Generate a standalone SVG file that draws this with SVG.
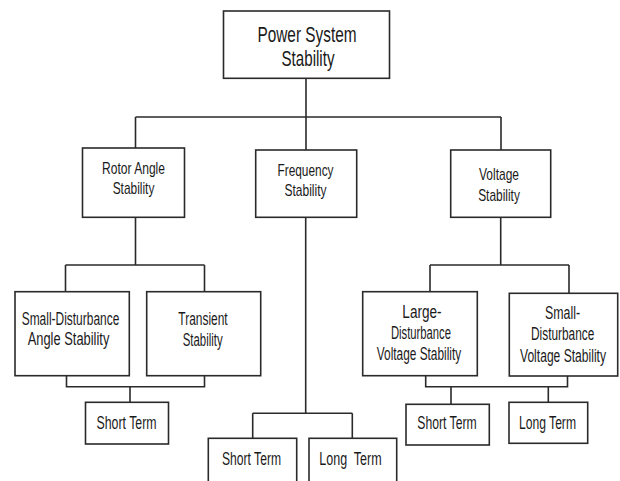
<svg xmlns="http://www.w3.org/2000/svg" width="620" height="481" viewBox="0 0 620 481">
<style>
.box{fill:#fff;stroke:#2a2a2a;stroke-width:1.6}
.ln{fill:none;stroke:#2a2a2a;stroke-width:1.6}
text{font-family:"Liberation Sans",Arial,sans-serif;fill:#1a1a1a;text-anchor:middle}
.t1{font-size:22px}
.t2{font-size:17px}
.t3{font-size:17.5px}
</style>
<rect width="620" height="481" fill="#fff"/>
<g id="connectors" class="ln">
<path d="M306,78.3 V150"/>
<path d="M135.5,117 H501"/>
<path d="M135.5,117 V148 M501,117 V150"/>
<path d="M135.5,217.3 V265 M65.5,265 H204.5 M65.5,265 V291.7 M204.5,265 V291.7"/>
<path d="M66.5,375.7 V386.7 H204.5 V375.7 M130,386.7 V402.3"/>
<path d="M305.7,217.3 V413.3 M252.7,413.3 H352.3 M252.7,413.3 V438.3 M352.3,413.3 V438.3"/>
<path d="M500.7,217.3 V265 M430,265 H569 M430,265 V291.7 M569,265 V293.3"/>
<path d="M425.7,375.7 V386.7 H567.5 V376 M451,386.7 V404.3 M548.3,386.7 V402.3"/>
</g>
<g id="power-system-stability">
<rect class="box" x="223.5" y="11" width="166" height="67.3"/>
<text class="t1" x="307" y="42" textLength="99" lengthAdjust="spacingAndGlyphs">Power System</text>
<text class="t1" x="308" y="65.5" textLength="53" lengthAdjust="spacingAndGlyphs">Stability</text>
</g>
<g id="rotor-angle-stability">
<rect class="box" x="82.5" y="148" width="102" height="69.3"/>
<text class="t2" x="133.5" y="173.5" textLength="63" lengthAdjust="spacingAndGlyphs">Rotor Angle</text>
<text class="t2" x="133.5" y="194" textLength="41.7" lengthAdjust="spacingAndGlyphs">Stability</text>
</g>
<g id="frequency-stability">
<rect class="box" x="255.7" y="150" width="101" height="67.3"/>
<text class="t2" x="305.5" y="176" textLength="56" lengthAdjust="spacingAndGlyphs">Frequency</text>
<text class="t2" x="305.5" y="195.5" textLength="42" lengthAdjust="spacingAndGlyphs">Stability</text>
</g>
<g id="voltage-stability">
<rect class="box" x="450.7" y="150" width="100" height="67.3"/>
<text class="t2" x="499" y="180" textLength="40" lengthAdjust="spacingAndGlyphs">Voltage</text>
<text class="t2" x="499" y="200.5" textLength="41.7" lengthAdjust="spacingAndGlyphs">Stability</text>
</g>
<g id="small-disturbance-angle-stability">
<rect class="box" x="15" y="291.7" width="114.3" height="84"/>
<text class="t3" x="70.5" y="324.5" textLength="97.6" lengthAdjust="spacingAndGlyphs">Small-Disturbance</text>
<text class="t3" x="68.5" y="344.5" textLength="81.7" lengthAdjust="spacingAndGlyphs">Angle Stability</text>
</g>
<g id="transient-stability">
<rect class="box" x="146.7" y="291.7" width="114" height="84"/>
<text class="t3" x="203" y="325" textLength="49.3" lengthAdjust="spacingAndGlyphs">Transient</text>
<text class="t3" x="202.7" y="345.5" textLength="40" lengthAdjust="spacingAndGlyphs">Stability</text>
</g>
<g id="rotor-short-term">
<rect class="box" x="85.5" y="402.3" width="83" height="41.7"/>
<text class="t3" x="126.5" y="428.5" textLength="60" lengthAdjust="spacingAndGlyphs">Short Term</text>
</g>
<g id="frequency-short-term">
<rect class="box" x="208.3" y="438.3" width="88.4" height="52"/>
<text class="t3" x="251.5" y="465" textLength="59" lengthAdjust="spacingAndGlyphs">Short Term</text>
</g>
<g id="frequency-long-term">
<rect class="box" x="309" y="438.3" width="87.7" height="52"/>
<text class="t3" x="350.5" y="465" textLength="62.3" lengthAdjust="spacingAndGlyphs" style="white-space:pre">Long  Term</text>
</g>
<g id="large-disturbance-voltage-stability">
<rect class="box" x="362.7" y="291.7" width="114.6" height="84"/>
<text class="t3" x="422" y="317.5" textLength="39.3" lengthAdjust="spacingAndGlyphs">Large-</text>
<text class="t3" x="421" y="338.5" textLength="60" lengthAdjust="spacingAndGlyphs">Disturbance</text>
<text class="t3" x="419" y="360" textLength="84.3" lengthAdjust="spacingAndGlyphs">Voltage Stability</text>
</g>
<g id="small-disturbance-voltage-stability">
<rect class="box" x="509.3" y="293.3" width="108.4" height="82.7"/>
<text class="t3" x="562.5" y="318.5" textLength="35" lengthAdjust="spacingAndGlyphs">Small-</text>
<text class="t3" x="562.7" y="339.5" textLength="63.3" lengthAdjust="spacingAndGlyphs">Disturbance</text>
<text class="t3" x="563" y="361.7" textLength="86" lengthAdjust="spacingAndGlyphs">Voltage Stability</text>
</g>
<g id="voltage-short-term">
<rect class="box" x="406" y="404.3" width="83.3" height="40.7"/>
<text class="t3" x="447" y="429" textLength="59.3" lengthAdjust="spacingAndGlyphs">Short Term</text>
</g>
<g id="voltage-long-term">
<rect class="box" x="509" y="402.3" width="78.7" height="41"/>
<text class="t3" x="547.5" y="428.5" textLength="57" lengthAdjust="spacingAndGlyphs">Long Term</text>
</g>
</svg>
